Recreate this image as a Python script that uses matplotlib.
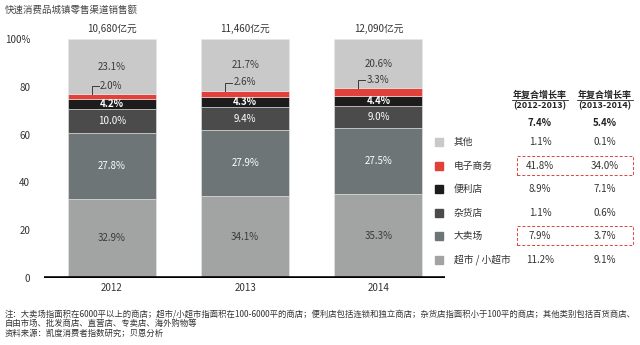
import matplotlib.pyplot as plt
import numpy as np
from matplotlib.patches import Rectangle

plt.rcParams['font.family'] = ['Noto Sans CJK SC', 'DejaVu Sans']

years = ['2012', '2013', '2014']
totals = ['10,680亿元', '11,460亿元', '12,090亿元']
channels = ['超市／小超市', '大卖场', '杂货店', '便利店', '电子商务', '其他']
shares = np.array([
    [32.9, 34.1, 35.3],   # 超市/小超市
    [27.8, 27.9, 27.5],   # 大卖场
    [10.0, 9.4, 9.0],     # 杂货店
    [4.2, 4.3, 4.4],      # 便利店
    [2.0, 2.6, 3.3],      # 电子商务
    [23.1, 21.7, 20.6],   # 其他
])
colors = ['#a2a4a3', '#6d7577', '#4b4b4b', '#1c1c1c', '#e2413a', '#c9c9c9']
text_colors = ['#3a3a3a', 'white', 'white', 'white', None, '#3a3a3a']

cagr_total = ['7.4%', '5.4%']
cagr_rows = {
    '其他': ['1.1%', '0.1%'],
    '电子商务': ['41.8%', '34.0%'],
    '便利店': ['8.9%', '7.1%'],
    '杂货店': ['1.1%', '0.6%'],
    '大卖场': ['7.9%', '3.7%'],
    '超市 / 小超市': ['11.2%', '9.1%'],
}
highlight = ['电子商务', '大卖场']

W, H = 640, 345
fig = plt.figure(figsize=(W / 100, H / 100), dpi=100)
ax = fig.add_axes([44 / W, 1 - 277.7 / H, (445 - 44) / W, (277.7 - 39.2) / H])

x = np.arange(len(years))
bar_w = 0.66
bottom = np.zeros(len(years))
for i, vals in enumerate(shares):
    ax.bar(x, vals, bar_w, bottom=bottom, color=colors[i],
           edgecolor='#e8e8e8', linewidth=0.4)
    for j, v in enumerate(vals):
        if text_colors[i] is not None:
            weight = 'bold' if i == 3 else 'normal'
            ax.text(x[j], bottom[j] + v / 2, f'{v:.1f}%', ha='center',
                    va='center', fontsize=7, color=text_colors[i],
                    weight=weight)
        else:
            # leader bracket for the thin e-commerce band
            top = bottom[j] + v
            lx = x[j] - 0.15
            ax.plot([lx, lx, lx + 0.05], [top, top + 3.4, top + 3.4],
                    color='#3a3a3a', lw=0.7, clip_on=False)
            ax.text(lx + 0.06, top + 3.6, f'{v:.1f}%', ha='left',
                    va='center', fontsize=7, color='#3a3a3a')
    bottom += vals

for j, t in enumerate(totals):
    ax.text(x[j], 104.3, t, ha='center', va='center', fontsize=7,
            color='#333333', clip_on=False)

ax.axhline(0, color='black', lw=2.6, zorder=5)
ax.set_xlim(-0.51, 2.5)
ax.set_ylim(0, 100)
ax.set_xticks(x)
ax.set_xticklabels(years)
ax.set_yticks([0, 20, 40, 60, 80, 100])
ax.set_yticklabels(['0', '20', '40', '60', '80', '100%'])
ax.tick_params(length=0, labelsize=7, colors='#333333')
ax.tick_params(axis='y', pad=10)
ax.tick_params(axis='x', pad=4)
for s in ax.spines.values():
    s.set_visible(False)


def fx(px):
    return px / W


def fy(py):
    return 1 - py / H


fig.text(fx(5), fy(10), '快速消费品城镇零售渠道销售额', fontsize=6.8,
         color='#444444', va='center')

# growth-rate table beside the bars
col_x = [540, 605]
for cx, period in zip(col_x, ['(2012-2013)', '(2013-2014)']):
    fig.text(fx(cx), fy(95), '年复合增长率', fontsize=6.5, weight='bold',
             ha='center', va='center', color='#222222')
    fig.add_artist(plt.Line2D([fx(cx - 28), fx(cx + 28)],
                              [fy(100), fy(100)], color='#222222', lw=0.6))
    fig.text(fx(cx), fy(106), period, fontsize=6.5, weight='bold',
             ha='center', va='center', color='#222222')
for cx, v in zip(col_x, cagr_total):
    fig.text(fx(cx), fy(122.5), v, fontsize=7, ha='center', va='center',
             color='#222222', weight='bold')

legend_colors = colors[::-1]
row_y = 142
for k, (name, vals) in enumerate(cagr_rows.items()):
    yy = row_y + k * 23.6
    fig.add_artist(Rectangle((fx(435), fy(yy + 4)), 8 / W, 8 / H,
                             transform=fig.transFigure,
                             color=legend_colors[k]))
    fig.text(fx(454), fy(yy), name, fontsize=7, va='center',
             color='#333333')
    for cx, v in zip(col_x, vals):
        fig.text(fx(cx), fy(yy), v, fontsize=7, ha='center', va='center',
                 color='#333333')
    if name in highlight:
        fig.add_artist(Rectangle((fx(517), fy(yy + 9)), (633 - 517) / W,
                                 19 / H, transform=fig.transFigure,
                                 fill=False, edgecolor='#e2413a',
                                 lw=0.7, ls=(0, (3, 2))))

notes = [
    '注：大卖场指面积在6000平以上的商店；超市/小超市指面积在100-6000平的商店；便利店包括连锁和独立商店；'
    '杂货店指面积小于100平的商店；其他类别包括百货商店、',
    '自由市场、批发商店、直营店、专卖店、海外购物等',
    '资料来源：凯度消费者指数研究；贝恩分析',
]
for k, line in enumerate(notes):
    fig.text(fx(5), fy(314 + k * 9.5), line, fontsize=6.0, va='center',
             color='#333333')

fig.savefig('out.png', dpi=100, facecolor='white')
